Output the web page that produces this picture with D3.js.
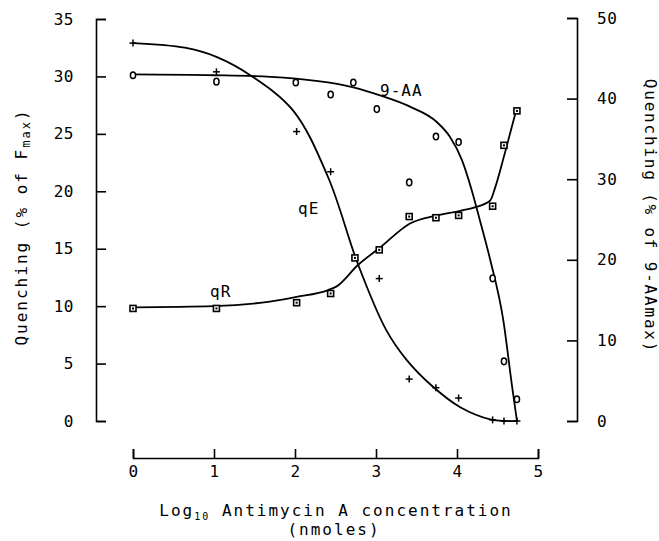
<!DOCTYPE html>
<html><head><meta charset="utf-8">
<script src="https://cdn.jsdelivr.net/npm/d3@7"></script>
<style>
body{margin:0;background:#fff;}
text{font-family:"DejaVu Sans Mono",monospace;fill:#000;}
</style></head><body>
<svg id="c" width="659" height="541"></svg>
<script>
// Data
const xTicks = [0,1,2,3,4,5];
const yLeftTicks = [0,5,10,15,20,25,30,35];
const yRightTicks = [0,10,20,30,40,50];

// qE (+), left axis
const qeX = [0,1.03,2.02,2.44,3.04,3.41,3.74,4.02,4.44,4.58,4.74];
const qeY = [32.9,30.4,25.2,21.7,12.4,3.65,2.9,2.0,0.1,0,0];
const qeCurveX = [0,0.64,1.03,1.47,1.98,2.41,2.78,3.12,3.38,3.7,4.04,4.41,4.74];
const qeCurveY = [32.9,32.5,31.7,30.0,27.0,21.2,13.6,8.0,5.3,3.0,1.2,0.15,0];

// 9-AA (o), right axis
const aaX = [0,1.03,2.01,2.44,2.72,3.01,3.41,3.74,4.02,4.44,4.58,4.74];
const aaY = [42.9,42.1,42.0,40.5,42.0,38.7,29.6,35.3,34.6,17.7,7.4,2.7];
const aaCurveX = [0,1,1.7,2.72,3.05,3.42,3.75,3.91,4.06,4.18,4.28,4.41,4.57,4.68,4.74];
const aaCurveY = [43.0,42.9,42.7,41.4,40.4,39.0,37.1,35.3,32.4,28.7,25.0,20.0,12.6,4.3,0];

// qR (square), left axis
const qrX = [0,1.03,2.02,2.44,2.74,3.04,3.41,3.74,4.02,4.44,4.58,4.74];
const qrY = [9.8,9.8,10.3,11.1,14.2,14.9,17.8,17.7,17.9,18.7,24.0,27.0];
const qrCurveX = [0,1,1.69,2.02,2.41,2.51,2.78,3.05,3.42,3.75,4.04,4.22,4.41,4.47,4.59,4.74];
const qrCurveY = [9.9,10.0,10.4,10.8,11.4,11.7,13.6,15.1,17.2,17.9,18.3,18.6,19.2,20.3,23.3,27.3];

const svg = d3.select("#c");
const x = d3.scaleLinear().domain([0,5]).range([133,538]);
const yL = d3.scaleLinear().domain([0,35]).range([421,19]);
const yR = d3.scaleLinear().domain([0,50]).range([421,18]);

function styleAxis(g){
  g.selectAll("path,line").attr("stroke","#000").attr("stroke-width",1.6);
  g.selectAll("text").attr("font-size",16).attr("font-family","'DejaVu Sans Mono',monospace").attr("letter-spacing","0.5px");
}

svg.append("g").attr("transform","translate(96,0)")
  .call(d3.axisLeft(yL).tickValues(yLeftTicks).tickSizeInner(-10).tickSizeOuter(-10).tickPadding(22))
  .call(styleAxis);
svg.append("g").attr("transform","translate(577,0)")
  .call(d3.axisRight(yR).tickValues(yRightTicks).tickSizeInner(-10).tickSizeOuter(-10).tickPadding(20))
  .call(styleAxis);
svg.append("g").attr("transform","translate(0,458)")
  .call(d3.axisBottom(x).tickValues(xTicks).tickSizeInner(-9).tickSizeOuter(-9).tickPadding(8).tickFormat(d3.format("d")))
  .call(styleAxis);

// curves
const lineL = d3.line().x(d=>x(d[0])).y(d=>yL(d[1])).curve(d3.curveMonotoneX);
const lineLc = d3.line().x(d=>x(d[0])).y(d=>yL(d[1])).curve(d3.curveCatmullRom.alpha(0.5));
const lineR = d3.line().x(d=>x(d[0])).y(d=>yR(d[1])).curve(d3.curveMonotoneX);
const zip = (a,b)=>a.map((v,i)=>[v,b[i]]);
svg.append("path").datum(zip(qeCurveX,qeCurveY)).attr("d",lineLc).attr("fill","none").attr("stroke","#000").attr("stroke-width",1.8);
svg.append("path").datum(zip(aaCurveX,aaCurveY)).attr("d",lineR).attr("fill","none").attr("stroke","#000").attr("stroke-width",1.8);
svg.append("path").datum(zip(qrCurveX,qrCurveY)).attr("d",lineL).attr("fill","none").attr("stroke","#000").attr("stroke-width",1.8);

// markers
const qe = svg.append("g");
zip(qeX,qeY).forEach(d=>{
  const cx=x(d[0]), cy=yL(d[1]);
  qe.append("line").attr("x1",cx-3.5).attr("x2",cx+3.5).attr("y1",cy).attr("y2",cy).attr("stroke","#000").attr("stroke-width",1.5);
  qe.append("line").attr("x1",cx).attr("x2",cx).attr("y1",cy-3.5).attr("y2",cy+3.5).attr("stroke","#000").attr("stroke-width",1.5);
});
svg.append("g").selectAll("ellipse").data(zip(aaX,aaY)).join("ellipse")
  .attr("cx",d=>x(d[0])).attr("cy",d=>yR(d[1])).attr("rx",2.6).attr("ry",3.3)
  .attr("fill","#fff").attr("stroke","#000").attr("stroke-width",1.5);
const qr = svg.append("g");
zip(qrX,qrY).forEach(d=>{
  const cx=x(d[0]), cy=yL(d[1]);
  qr.append("rect").attr("x",cx-3).attr("y",cy-3).attr("width",6).attr("height",6).attr("fill","#fff").attr("stroke","#000").attr("stroke-width",1.6);
  qr.append("rect").attr("x",cx-1).attr("y",cy-1).attr("width",2).attr("height",2).attr("fill","#000");
});

// series labels
const lab = (t,px,py)=>svg.append("text").attr("x",px).attr("y",py).attr("font-size",16).attr("letter-spacing","1px").text(t);
lab("9-AA",380,96);
lab("qE",298,214);
lab("qR",210,297);

// x title
const xt = svg.append("text").attr("x",336).attr("y",516).attr("text-anchor","middle").attr("font-size",16).attr("letter-spacing","2px");
xt.append("tspan").text("Log");
xt.append("tspan").attr("font-size",10).attr("dy",4).text("10");
xt.append("tspan").attr("dy",-4).text("  Antimycin A concentration");
svg.append("text").attr("x",334).attr("y",535).attr("text-anchor","middle").attr("font-size",16).attr("letter-spacing","2px").text("(nmoles)");

// left title
const lt = svg.append("text").attr("transform","translate(27,227) rotate(-90)").attr("text-anchor","middle").attr("font-size",16).attr("letter-spacing","2px");
lt.append("tspan").text("Quenching  (% of F");
lt.append("tspan").attr("font-size",12).attr("dy",3).text("max");
lt.append("tspan").attr("dy",-3).text(")");

// right title
svg.append("text").attr("transform","translate(645,216) rotate(90)").attr("text-anchor","middle").attr("font-size",16).attr("letter-spacing","1.8px").text("Quenching  (% of 9-AAmax)");
</script>
</body></html>
